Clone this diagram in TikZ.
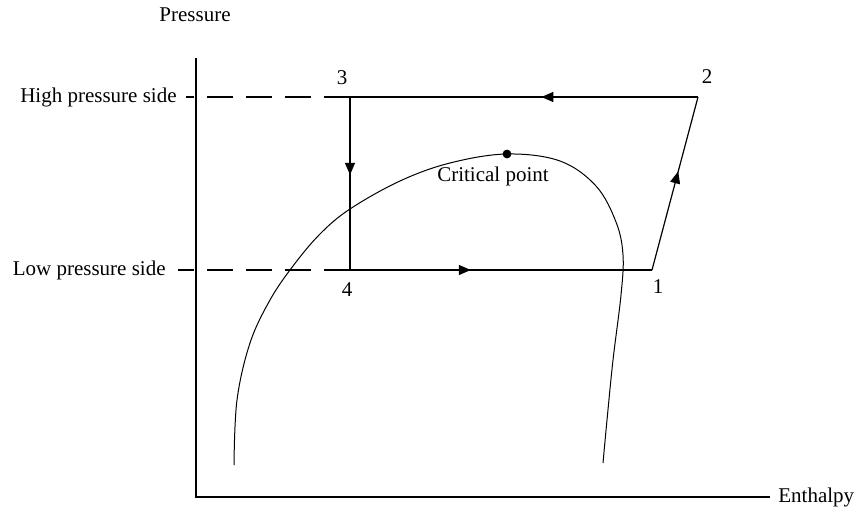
\documentclass[tikz,border=0pt]{standalone}
\usepackage{fontspec}
\setmainfont{Liberation Serif}
\usetikzlibrary{arrows.meta, decorations.markings}

\tikzset{
  cycleline/.style={line width=0.6pt},
  dashline/.style={line width=0.6pt, dash pattern=on 13pt off 6.5pt},
  flowarrow/.style={postaction={decorate}, decoration={markings,
    mark=at position #1 with {\arrow{Triangle[length=6pt, width=5pt]}}}},
  lbl/.style={font=\fontsize{10.5}{12.5}\selectfont, inner sep=1pt}
}

\begin{document}
\begin{tikzpicture}[x=0.5pt, y=-0.5pt]
  \useasboundingbox (0,0) rectangle (856,514);
  % axes
  \coordinate (O) at (196,497);
  \coordinate (Ytop) at (196,58);
  \coordinate (Xend) at (770,497);
  \draw[cycleline] (Ytop) -- (O) -- (Xend);
  \node[lbl] (ylab) at (195,15) {Pressure};
  \node[lbl, anchor=west] (xlab) at (776,497) {Enthalpy};

  % cycle points
  \coordinate (p1) at (652,270);
  \coordinate (p2) at (698,97);
  \coordinate (p3) at (350,97);
  \coordinate (p4) at (350,270);
  \coordinate (hi) at (186,97);
  \coordinate (lo) at (178,270);

  \draw[cycleline, flowarrow=0.45] (p2) -- (p3);
  \draw[cycleline, flowarrow=0.45] (p3) -- (p4);
  \draw[cycleline, flowarrow=0.4] (p4) -- (p1);
  \draw[cycleline, flowarrow=0.57] (p1) -- (p2);
  \draw[dashline] (p3) -- (hi);
  \draw[dashline] (p4) -- (lo);

  \node[lbl, anchor=east] (hiside) at (179,97) {High pressure side};
  \node[lbl, anchor=east] (loside) at (168,270) {Low pressure side};
  \node[lbl] (n1) at (658,287) {1};
  \node[lbl] (n2) at (707,77) {2};
  \node[lbl] (n3) at (342,78) {3};
  \node[lbl] (n4) at (347,290) {4};

  % saturation dome
  \draw[line width=0.5pt] plot[smooth, tension=0.6] coordinates {
    (234,465) (237,400) (250,343) (270,300) (293,266) (320,234)
    (350,209) (400,181) (450,163) (507,154) (560,161) (596,186)
    (616,222) (623,255) (621,295) (613,360) (607,420) (603,463)};
  \coordinate (crit) at (507,154);
  \fill (crit) circle (2.2pt);
  \node[lbl] (critlab) at (493,176) {Critical point};
\end{tikzpicture}
\end{document}
